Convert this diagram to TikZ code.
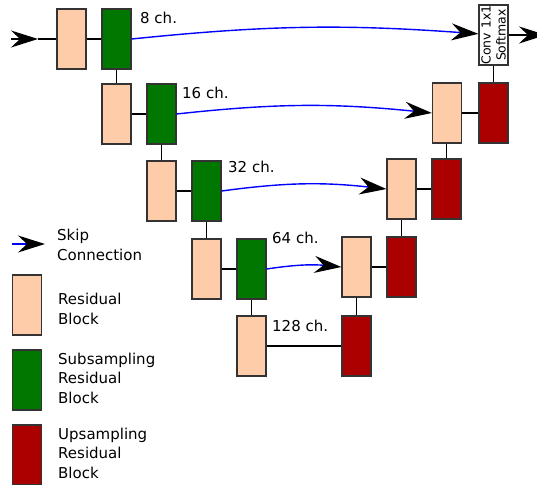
\documentclass[tikz,border=0pt]{standalone}
\usepackage{fontspec}
\setmainfont{DejaVu Sans}
\usetikzlibrary{arrows.meta}
\definecolor{resfill}{RGB}{255,204,170}
\definecolor{subfill}{RGB}{0,120,0}
\definecolor{upfill}{RGB}{170,0,0}

\begin{document}
\begin{tikzpicture}[x=1pt,y=-1pt,font=\fontsize{15}{19.5}\selectfont,
  blk/.style={draw=black!80,line width=1.2pt,minimum width=29pt,minimum height=60pt,inner sep=0pt},
  res/.style={blk,fill=resfill},
  sub/.style={blk,fill=subfill},
  up/.style={blk,fill=upfill},
  conn/.style={line width=1.3pt},
  bighead/.style={-{Stealth[black,length=27pt,width=17pt,inset=9pt]}},
  skip/.style={blue,line width=1.4pt,bighead},
  txt/.style={anchor=west,align=left,inner sep=0pt}]
  \useasboundingbox (0,0) rectangle (537,484);
  % encoder
  \node[res] (r0) at (71.5,39) {};  \node[sub] (s0) at (116.5,39) {};
  \node[res] (r1) at (116.5,114) {}; \node[sub] (s1) at (161.5,114) {};
  \node[res] (r2) at (161.5,191) {}; \node[sub] (s2) at (206.5,191) {};
  \node[res] (r3) at (206.5,269) {}; \node[sub] (s3) at (251.5,269) {};
  \node[res] (r4) at (251.5,346) {};
  % decoder
  \node[up] (u4) at (356.5,346) {};
  \node[res] (d3) at (356.5,267) {}; \node[up] (u3) at (401.5,267) {};
  \node[res] (d2) at (401.5,189) {}; \node[up] (u2) at (446.5,189) {};
  \node[res] (d1) at (447,113) {};   \node[up] (u1) at (493.5,113) {};
  \node[draw=black!80,line width=1.2pt,fill=white,rotate=90,minimum width=60pt,minimum height=29pt,
        inner sep=0.5pt,align=center,font=\fontsize{12.5}{15}\selectfont] (out) at (493.5,35) {Conv 1x1\\Softmax};
  % channel labels
  \node[txt] (c0) at (140,18) {8 ch.};
  \node[txt] (c1) at (182,93) {16 ch.};
  \node[txt] (c2) at (228,167) {32 ch.};
  \node[txt] (c3) at (272,238) {64 ch.};
  \node[txt] (c4) at (272,326) {128 ch.};
  % block connections
  \draw[conn] (r0) -- (s0); \draw[conn] (s0) -- (r1);
  \draw[conn] (r1) -- (s1); \draw[conn] (s1) -- (r2);
  \draw[conn] (r2) -- (s2); \draw[conn] (s2) -- (r3);
  \draw[conn] (r3) -- (s3); \draw[conn] (s3) -- (r4);
  \draw[conn] (r4) -- (u4); \draw[conn] (u4) -- (d3);
  \draw[conn] (d3) -- (u3); \draw[conn] (u3) -- (d2);
  \draw[conn] (d2) -- (u2); \draw[conn] (u2.north) -- (u2.north |- d1.south);
  \draw[conn] (d1) -- (u1); \draw[conn] (u1) -- (out);
  % skip connections
  \draw[skip] (s0.east) to[bend left=5] (out);
  \draw[skip] (s1.east) to[bend left=6] (d1.west);
  \draw[skip] (s2.east) to[bend left=7] (d2.west);
  \draw[skip] (s3.east) to[bend left=7] (d3.west);
  % input / output
  \coordinate (in) at (11,39); \coordinate (intip) at (38,39);
  \draw[conn,bighead] (in) -- (intip); \draw[conn] (intip) -- (r0);
  \coordinate (outend) at (546,35);
  \draw[conn,bighead] (out) -- (outend);
  % legend
  \coordinate (lgs) at (12,244); \coordinate (lge) at (45,244);
  \draw[skip] (lgs) -- (lge);
  \node[txt] (lskip) at (57,245) {Skip\\Connection};
  \node[res] (lres) at (27,305) {};
  \node[txt] (lrest) at (58,309) {Residual\\Block};
  \node[sub] (lsub) at (27,380) {};
  \node[txt] (lsubt) at (58,378) {Subsampling\\Residual\\Block};
  \node[up] (lup) at (27,455) {};
  \node[txt] (lupt) at (58,453) {Upsampling\\Residual\\Block};
\end{tikzpicture}
\end{document}
